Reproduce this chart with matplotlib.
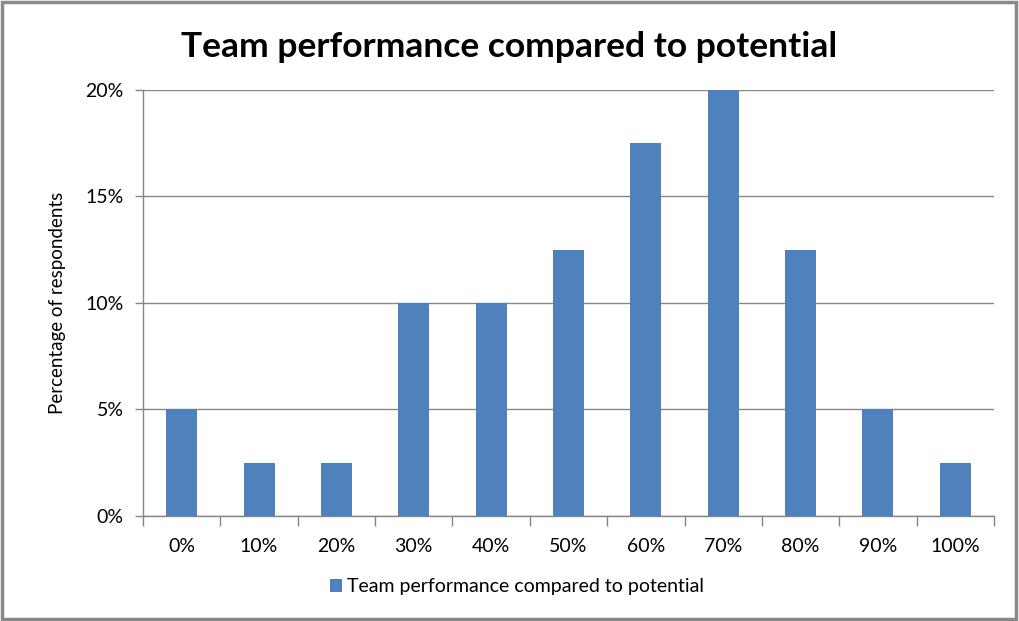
import matplotlib.pyplot as plt
from matplotlib.patches import Rectangle
from matplotlib.ticker import FixedLocator, NullFormatter

categories = ["0%", "10%", "20%", "30%", "40%", "50%", "60%", "70%", "80%", "90%", "100%"]
values = [5, 2.5, 2.5, 10, 10, 12.5, 17.5, 20, 12.5, 5, 2.5]
y_ticks = [0, 5, 10, 15, 20]
y_tick_labels = ["0%", "5%", "10%", "15%", "20%"]
series_name = "Team performance compared to potential"

plt.rcParams["font.family"] = ["Lato", "DejaVu Sans"]

BAR_COLOR = "#4F81BD"
LINE_COLOR = "#868686"

fig = plt.figure(figsize=(10.2, 6.21), dpi=100)
ax = fig.add_axes([0.1402, 0.1691, 0.8343, 0.686])

x = list(range(len(categories)))
ax.bar(x, values, width=0.4, color=BAR_COLOR, label=series_name, zorder=3)

ax.set_xlim(-0.5, len(categories) - 0.5)
ax.set_ylim(0, 20)
ax.set_yticks(y_ticks, y_tick_labels)
ax.yaxis.grid(True, color=LINE_COLOR, linewidth=1, zorder=0)

ax.set_xticks(x, categories)
ax.tick_params(axis="x", length=0, pad=16, labelsize=14)
ax.xaxis.set_minor_locator(FixedLocator([i - 0.5 for i in range(len(categories) + 1)]))
ax.xaxis.set_minor_formatter(NullFormatter())
ax.tick_params(axis="x", which="minor", length=7, color=LINE_COLOR, width=1)
ax.tick_params(axis="y", length=6, color=LINE_COLOR, width=1, pad=8, labelsize=14)

for side in ["top", "right"]:
    ax.spines[side].set_visible(False)
for side in ["left", "bottom"]:
    ax.spines[side].set_color(LINE_COLOR)
    ax.spines[side].set_linewidth(1)

ax.set_ylabel("Percentage of respondents", fontsize=13.5)
ax.yaxis.set_label_coords(-0.09, 0.5)

fig.suptitle(series_name, x=0.499, y=0.95, fontsize=25.5, fontweight="bold")

fig.legend(loc="center", bbox_to_anchor=(0.507, 0.055), frameon=False,
           fontsize=14, handlelength=0.6, handleheight=0.6, handletextpad=0.3)

# outer chart border
fig.patches.append(Rectangle((0.002, 0.004), 0.994, 0.992, transform=fig.transFigure,
                             fill=False, edgecolor="#898989", linewidth=2.5))

fig.savefig("out.png", dpi=100)
